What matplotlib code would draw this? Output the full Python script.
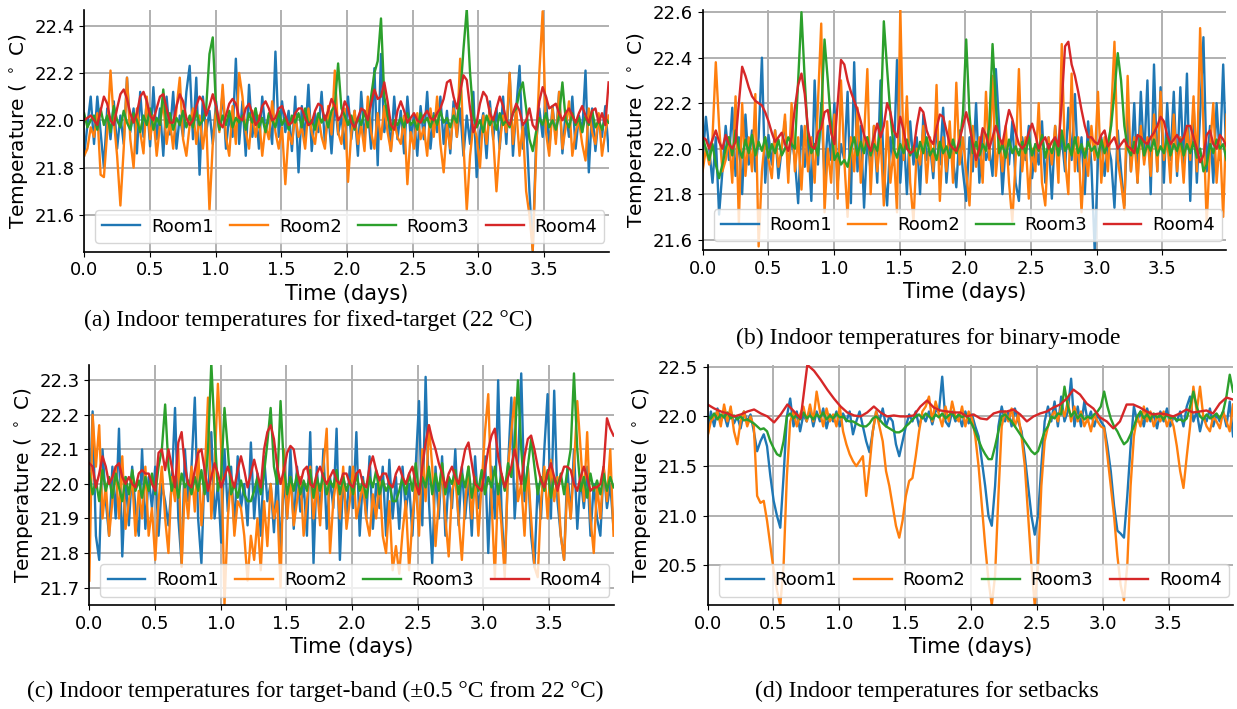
import numpy as np
import matplotlib
matplotlib.use('Agg')
from matplotlib import pyplot as plt

# ---- (a) fixed-target ----
a_room1 = [21.85, 21.98, 22.1, 21.9, 22.1, 21.95, 21.8, 22.05, 21.92, 22.08, 21.88, 22.02, 21.9, 22.18, 21.95, 22.05,
           21.86, 22.12, 21.93, 22.08, 21.89, 22.14, 21.92, 22.05, 21.85, 22.1, 21.94, 22.12, 21.88, 22.02, 21.93, 22.12,
           22.23, 21.92, 22.18, 21.77, 22.1, 21.95, 22.04, 21.9, 22.08, 21.96, 22.12, 21.88, 22.02, 21.93, 22.26, 21.9,
           22.08, 21.85, 22.15, 21.93, 22.05, 21.88, 22.1, 21.95, 22.02, 21.9, 22.29, 21.93, 22.08, 21.95, 22.04, 21.87,
           22.1, 21.78, 22.06, 21.92, 22.15, 21.87, 22.03, 21.95, 22.12, 21.9, 22.04, 21.86, 22.08, 21.94, 22.02, 21.88,
           22.1, 21.92, 22.04, 21.85, 22.12, 21.93, 22.05, 21.88, 22.22, 21.81, 22.28, 21.95, 22.06, 21.87, 22.1, 21.92,
           22.04, 21.86, 22.1, 21.93, 22.02, 21.85, 22.06, 21.92, 22.12, 21.88, 22.03, 21.95, 22.1, 21.9, 22.04, 21.86,
           22.08, 21.93, 22.05, 21.85, 22.02, 21.9, 22.12, 21.76, 21.95, 22.03, 21.84, 22.08, 21.92, 22.05, 21.88, 22.1,
           21.9, 22.2, 21.85, 22.05, 22.23, 21.88, 22.0, 21.7, 21.45, 21.9, 22.05, 21.93, 22.1, 21.88, 22.06, 21.92,
           22.12, 21.86, 22.04, 21.93, 22.1, 21.88, 22.02, 21.95, 22.21, 21.78, 22.05, 21.87, 22.02, 21.93, 22.06, 21.87]
a_room2 = [21.85, 21.88, 21.97, 21.93, 22.03, 21.77, 21.76, 21.95, 22.21, 22.0, 21.85, 21.64, 21.88, 22.18, 21.92, 21.8,
           22.05, 21.95, 21.86, 22.1, 21.92, 22.02, 21.85, 21.98, 22.08, 21.9, 22.0, 21.88, 22.05, 22.18, 21.92, 21.85,
           21.98, 22.05, 21.9, 22.02, 21.88, 22.0, 21.62, 21.9, 22.05, 21.95, 22.15, 21.93, 21.85, 22.06, 21.9, 22.2,
           22.1, 21.95, 21.88, 22.04, 21.93, 22.02, 21.85, 21.98, 21.92, 22.08, 21.95, 21.88, 21.97, 21.73, 21.95, 21.9,
           22.02, 21.93, 21.97, 21.88, 22.05, 21.95, 21.9, 22.02, 21.93, 21.88, 22.06, 21.94, 22.21, 21.95, 21.9, 22.05,
           21.74, 21.95, 22.04, 21.9, 21.98, 21.87, 22.1, 21.95, 21.88, 22.03, 21.92, 22.06, 21.95, 21.87, 22.0, 21.93,
           21.9, 22.02, 21.73, 21.95, 21.88, 22.03, 21.92, 21.97, 21.85, 22.05, 21.93, 22.1, 21.9, 21.78, 21.98, 21.88,
           22.05, 21.93, 22.26, 21.9, 21.62, 21.85, 21.98, 21.93, 21.8, 22.02, 21.9, 22.05, 21.93, 21.7, 21.9, 22.02,
           21.95, 22.2, 21.9, 22.05, 21.85, 21.98, 21.7, 21.6, 21.45, 21.85, 22.2, 22.46, 21.95, 21.85, 22.05, 21.9,
           22.12, 21.88, 21.97, 22.08, 21.85, 21.95, 22.0, 21.9, 21.83, 22.05, 21.95, 21.9, 22.03, 21.85, 21.95, 22.02]
a_room3 = [22.03, 21.97, 22.0, 22.02, 21.96, 22.05, 21.98, 22.02, 21.95, 22.06, 22.0, 21.97, 22.04, 21.99, 21.96, 22.03,
           22.0, 21.95, 22.02, 21.98, 22.05, 21.96, 22.01, 21.98, 22.13, 21.97, 22.03, 21.96, 22.01, 21.98, 22.04, 21.97,
           22.02, 21.97, 22.04, 21.98, 22.0, 22.05, 22.28, 22.35, 22.05, 21.96, 22.02, 21.98, 22.04, 21.97, 22.01, 21.99,
           22.02, 21.96, 22.03, 21.99, 22.05, 21.97, 22.01, 21.95, 22.03, 22.0, 21.97, 22.04, 21.98, 22.01, 21.96, 22.02,
           21.99, 22.03, 21.97, 22.05, 21.98, 22.0, 21.96, 22.03, 21.99, 22.02, 21.97, 22.04, 22.06, 22.24, 22.05, 22.02,
           21.98, 22.02, 21.96, 22.01, 21.98, 22.04, 21.97, 22.1, 22.2, 22.25, 22.43, 22.1, 22.02, 21.96, 22.0, 21.98,
           22.01, 21.97, 22.03, 21.98, 22.0, 21.96, 22.03, 21.99, 22.01, 21.97, 22.02, 21.98, 22.04, 21.99, 22.01, 21.97,
           22.02, 21.99, 22.1, 22.3, 22.47, 22.2, 22.02, 21.97, 22.0, 21.95, 22.02, 21.98, 22.01, 21.96, 22.03, 21.98,
           22.0, 21.97, 22.03, 22.05, 22.12, 22.16, 22.05, 21.92, 21.87, 21.95, 22.01, 21.98, 22.03, 21.97, 22.0, 21.96,
           22.02, 22.16, 22.0, 21.97, 22.03, 21.98, 22.01, 21.95, 22.02, 21.98, 22.04, 21.97, 22.0, 21.96, 22.01, 21.99]
a_room4 = [22.0, 22.01, 22.02, 22.0, 21.98, 22.04, 22.1, 22.07, 22.0, 21.98, 22.05, 22.11, 22.13, 22.09, 22.03, 21.99,
           22.03, 22.1, 22.12, 22.08, 22.02, 22.0, 22.05, 22.1, 22.11, 22.05, 21.99, 21.99, 22.06, 22.11, 22.08, 22.01,
           21.98, 22.0, 22.06, 22.1, 22.08, 22.02, 22.06, 22.11, 22.06, 21.99, 21.97, 22.02, 22.07, 22.09, 22.07, 22.01,
           22.0, 22.05, 22.07, 22.03, 21.98, 22.0, 22.06, 22.08, 22.05, 22.0, 22.01, 22.05, 22.06, 22.02, 21.98, 21.99,
           22.03, 22.05, 22.05, 22.01, 21.98, 21.99, 22.04, 22.07, 22.06, 22.0, 22.04, 22.09, 22.06, 22.0, 22.02, 22.08,
           22.05, 21.99, 21.97, 22.01, 22.05, 22.04, 22.0, 22.07, 22.13, 22.09, 22.1, 22.16, 22.08, 21.98, 21.96, 22.04,
           22.08, 22.04, 21.99, 22.01, 22.03, 22.0, 21.99, 22.02, 22.04, 22.01, 22.0, 22.03, 22.05, 22.09, 22.16, 22.17,
           22.1, 22.05, 22.12, 22.19, 22.17, 22.05, 21.95, 21.99, 22.07, 22.12, 22.1, 22.03, 22.0, 22.05, 22.1, 22.06,
           22.0, 21.98, 22.03, 22.07, 22.04, 21.98, 22.0, 22.05, 21.98, 21.96, 22.08, 22.14, 22.1, 22.05, 22.06, 22.07,
           22.03, 22.0, 22.03, 22.05, 22.02, 21.99, 22.03, 22.06, 22.02, 21.99, 22.04, 22.05, 21.99, 22.03, 21.98, 22.16]

# ---- (b) binary-mode ----
b_room1 = [21.95, 22.14, 22.0, 21.85, 22.05, 21.71, 21.9, 22.1, 21.95, 22.18, 21.88, 22.05, 21.8, 22.15, 21.93, 22.08,
           21.9, 22.05, 22.4, 21.85, 22.06, 21.93, 22.08, 21.87, 22.0, 22.12, 21.9, 22.05, 21.95, 21.76, 22.1, 21.92,
           22.05, 21.77, 22.3, 21.93, 22.2, 21.87, 22.1, 21.95, 22.2, 21.85, 22.02, 21.95, 22.25, 21.76, 22.38, 21.9,
           22.1, 21.74, 22.05, 21.9, 22.1, 21.85, 22.3, 21.9, 21.75, 22.05, 21.93, 22.39, 21.85, 22.08, 21.8, 22.12,
           21.93, 22.05, 21.8, 22.15, 21.95, 22.02, 21.87, 22.1, 21.93, 22.18, 21.85, 22.05, 21.95, 21.83, 22.08, 21.9,
           21.77, 22.05, 21.9, 22.2, 21.85, 22.08, 21.95, 22.0, 21.88, 22.35, 22.1, 21.8, 22.02, 21.93, 22.12, 21.85,
           21.77, 22.05, 21.95, 22.1, 21.87, 22.02, 21.93, 22.12, 21.85, 22.05, 21.78, 22.1, 21.95, 22.05, 21.9, 22.18,
           21.95, 22.24, 21.9, 22.05, 21.8, 22.12, 21.93, 21.55, 21.95, 22.05, 21.88, 22.02, 21.95, 21.74, 22.08, 21.9,
           21.75, 22.15, 21.9, 22.2, 21.85, 22.25, 21.95, 22.3, 21.8, 22.37, 21.9, 22.27, 21.85, 22.2, 21.95, 22.25,
           21.88, 22.27, 21.92, 22.33, 21.77, 22.2, 21.85, 22.15, 22.49, 21.9, 22.1, 21.85, 22.2, 21.95, 22.37, 21.93]
b_room2 = [21.9, 22.0, 21.93, 22.05, 22.38, 22.1, 21.9, 21.95, 22.05, 21.85, 22.23, 21.67, 22.2, 21.88, 22.05, 21.9,
           22.24, 21.57, 21.9, 22.05, 21.95, 21.87, 22.08, 21.92, 22.0, 22.15, 21.85, 22.2, 21.9, 22.05, 21.82, 22.1,
           21.9, 22.05, 21.85, 22.2, 22.55, 21.72, 22.0, 21.85, 22.15, 21.78, 22.3, 21.95, 21.7, 22.05, 21.9, 22.18,
           21.85, 22.05, 22.35, 21.8, 22.1, 21.9, 22.05, 21.75, 22.12, 21.85, 22.0, 21.72, 22.62, 21.95, 22.23, 21.85,
           21.68, 22.0, 21.93, 22.1, 21.85, 22.05, 21.9, 22.28, 21.77, 22.05, 21.9, 22.12, 21.85, 22.29, 21.93, 22.05,
           21.9, 21.75, 22.1, 21.92, 22.05, 21.85, 22.25, 21.95, 22.32, 21.88, 22.05, 21.9, 22.1, 21.85, 21.68, 21.95,
           22.35, 21.9, 22.05, 21.78, 22.0, 21.9, 22.2, 21.85, 21.75, 22.05, 21.93, 22.1, 21.85, 22.46, 21.95, 21.8,
           22.33, 21.9, 22.05, 21.72, 22.0, 21.88, 22.1, 21.95, 22.25, 21.85, 22.05, 21.9, 22.15, 22.47, 21.95, 21.85,
           21.73, 22.32, 21.9, 22.05, 21.85, 22.1, 21.93, 22.05, 21.88, 22.15, 21.9, 22.25, 21.95, 22.05, 21.85, 22.15,
           21.9, 22.05, 21.85, 22.1, 21.95, 22.23, 21.9, 22.53, 22.1, 21.67, 22.0, 22.2, 21.85, 22.05, 21.7, 22.15]
b_room3 = [22.05, 22.0, 21.95, 22.02, 21.93, 21.87, 21.93, 22.0, 22.05, 21.97, 22.08, 22.0, 21.96, 22.04, 21.98, 22.06,
           21.97, 22.03, 21.99, 22.05, 21.96, 22.02, 21.98, 22.04, 21.97, 22.0, 22.05, 22.02, 22.0, 22.3, 22.6, 22.3,
           22.05, 21.98, 22.02, 21.97, 22.15, 22.48, 22.3, 22.1, 21.95, 21.98, 21.93, 21.95, 21.92, 22.0, 22.05, 21.97,
           22.03, 21.98, 22.05, 21.97, 22.02, 21.99, 22.1, 22.56, 22.35, 22.15, 22.0, 21.96, 22.02, 21.98, 22.04, 21.97,
           22.01, 21.96, 22.03, 21.98, 22.05, 21.97, 22.0, 21.95, 22.03, 21.98, 22.01, 21.96, 22.04, 21.98, 22.02, 22.15,
           22.48, 22.15, 21.98, 22.03, 21.97, 22.02, 21.99, 22.1, 22.46, 22.2, 21.98, 22.02, 21.96, 22.04, 21.98, 22.01,
           21.97, 22.03, 21.98, 22.05, 21.97, 22.02, 21.99, 22.06, 21.96, 22.02, 21.98, 22.04, 21.97, 22.08, 21.99, 22.02,
           21.97, 22.05, 21.98, 22.02, 21.96, 22.03, 21.99, 22.01, 21.96, 22.04, 21.98, 22.02, 22.1, 22.25, 22.42, 22.3,
           22.1, 22.0, 21.97, 22.03, 21.98, 22.05, 21.97, 22.02, 21.99, 22.04, 21.97, 22.01, 21.98, 22.05, 21.97, 22.02,
           21.99, 22.04, 21.97, 22.02, 21.98, 22.03, 21.96, 22.0, 21.9, 21.93, 22.02, 21.98, 22.04, 22.0, 22.02, 21.95]
b_room4 = [22.05, 22.04, 22.0, 22.04, 22.08, 22.03, 22.0, 22.06, 22.02, 22.0, 22.03, 22.2, 22.36, 22.32, 22.27, 22.23,
           22.21, 22.2, 22.19, 22.16, 22.12, 22.07, 22.03, 22.05, 22.07, 22.02, 21.99, 22.05, 22.18, 22.28, 22.33, 22.24,
           22.08, 22.01, 22.0, 22.07, 22.09, 22.16, 22.17, 22.07, 22.02, 22.2, 22.39, 22.37, 22.3, 22.25, 22.21, 22.17,
           22.12, 22.06, 22.02, 21.99, 22.05, 22.11, 22.05, 22.1, 22.2, 22.16, 22.08, 22.05, 22.14, 22.08, 22.0, 21.98,
           21.99, 22.1, 22.18, 22.16, 22.08, 22.04, 22.02, 22.09, 22.15, 22.14, 22.08, 22.02, 22.0, 21.99, 22.04, 22.1,
           22.16, 22.1, 22.02, 21.95, 22.0, 22.09, 22.06, 22.0, 22.05, 22.1, 22.05, 22.02, 22.1, 22.17, 22.13, 22.07,
           22.02, 22.0, 22.02, 22.07, 22.11, 22.06, 22.0, 22.03, 22.05, 22.0, 22.03, 22.05, 22.01, 22.2, 22.45, 22.47,
           22.37, 22.32, 22.25, 22.17, 22.1, 22.05, 22.05, 22.03, 22.02, 22.06, 22.08, 22.01, 22.03, 22.05, 22.0, 22.02,
           22.04, 22.01, 22.0, 21.98, 22.06, 22.05, 22.03, 22.02, 22.05, 22.07, 22.1, 22.14, 22.12, 22.06, 22.02, 22.04,
           22.06, 22.03, 22.05, 22.1, 22.1, 22.05, 22.0, 21.94, 21.97, 22.06, 22.08, 22.02, 22.0, 22.06, 22.04, 22.01]

# ---- (c) target-band ----
c_room1 = [21.92, 22.21, 21.85, 21.78, 22.1, 21.95, 21.85, 22.05, 21.9, 22.16, 21.79, 22.02, 21.88, 22.05, 21.93, 21.85,
           22.1, 21.87, 22.02, 21.93, 22.05, 21.85, 22.0, 21.95, 21.88, 22.0, 22.22, 21.9, 21.77, 22.1, 21.95, 22.05,
           22.25, 21.9, 21.77, 22.05, 21.95, 22.15, 21.9, 22.0, 21.83, 22.1, 21.92, 22.05, 21.87, 22.08, 21.93, 22.0,
           21.88, 22.12, 21.9, 22.03, 21.85, 22.08, 21.95, 22.0, 21.86, 22.05, 21.8, 22.02, 21.9, 22.1, 21.87, 22.05,
           21.92, 22.0, 21.85, 22.15, 21.77, 22.05, 21.9, 22.1, 21.87, 22.02, 21.93, 22.16, 21.78, 22.02, 21.9, 22.05,
           21.93, 22.15, 21.85, 22.02, 21.9, 22.08, 21.87, 22.0, 21.93, 22.05, 21.85, 22.07, 21.9, 22.02, 21.87, 22.05,
           21.92, 22.0, 21.85, 22.05, 22.24, 21.88, 22.31, 21.95, 21.77, 22.05, 21.9, 22.08, 21.85, 22.02, 21.93, 22.1,
           21.88, 22.05, 21.9, 22.02, 21.85, 22.08, 21.93, 22.0, 22.08, 21.8, 22.05, 21.9, 22.3, 21.93, 21.75, 22.05,
           22.25, 21.9, 22.05, 22.32, 21.95, 22.05, 21.85, 21.76, 22.0, 21.9, 22.1, 22.26, 21.9, 22.27, 21.95, 21.85,
           21.78, 22.05, 21.9, 22.1, 21.87, 22.02, 21.93, 22.05, 21.85, 22.0, 21.9, 21.85, 22.05, 21.93, 22.0, 21.87]
c_room2 = [21.72, 22.2, 22.05, 22.17, 21.9, 22.0, 21.85, 21.95, 22.05, 21.9, 22.08, 21.87, 21.95, 22.02, 21.85, 21.98,
           21.9, 22.05, 21.85, 21.93, 21.78, 21.95, 22.05, 21.9, 21.8, 22.02, 21.95, 22.1, 21.76, 22.0, 21.9, 22.05,
           21.92, 22.1, 21.88, 22.02, 22.25, 21.9, 22.05, 22.29, 22.1, 21.65, 21.9, 22.02, 21.85, 21.95, 21.93, 21.85,
           21.72, 21.85, 21.78, 21.9, 21.75, 21.95, 21.82, 22.0, 21.9, 21.95, 21.7, 22.1, 21.9, 22.02, 21.88, 21.95,
           22.02, 21.85, 21.95, 22.05, 21.9, 22.0, 21.88, 22.05, 22.16, 21.8, 21.95, 22.02, 21.9, 22.05, 21.87, 21.95,
           22.05, 21.9, 21.95, 22.0, 21.9, 21.85, 21.97, 21.9, 22.02, 21.85, 21.8, 21.95, 21.75, 21.82, 21.74, 21.86,
           21.95, 21.75, 21.9, 22.0, 21.85, 22.1, 21.95, 22.17, 22.05, 21.82, 21.95, 22.05, 21.9, 21.79, 21.98, 22.02,
           21.9, 21.78, 21.95, 22.05, 21.9, 22.02, 21.85, 22.0, 22.15, 22.26, 21.95, 21.73, 22.0, 21.88, 21.73, 22.05,
           22.15, 22.25, 21.95, 22.0, 21.85, 22.05, 21.9, 21.76, 21.73, 21.95, 22.05, 21.9, 22.07, 21.95, 22.02, 21.85,
           21.78, 22.0, 21.9, 22.05, 22.24, 22.1, 21.95, 22.15, 21.9, 21.8, 22.0, 21.9, 22.05, 21.95, 22.1, 21.85]
c_room3 = [22.03, 21.97, 22.01, 21.95, 22.04, 21.98, 22.02, 21.96, 22.03, 21.99, 21.95, 22.02, 21.97, 22.04, 21.98, 22.01,
           21.96, 22.02, 21.98, 22.03, 21.97, 22.05, 22.1, 22.23, 22.05, 21.98, 22.02, 21.96, 22.03, 21.99, 22.01, 21.97,
           22.02, 21.98, 22.04, 21.97, 22.1, 22.35, 22.15, 21.98, 22.02, 22.22, 22.1, 21.97, 22.0, 21.96, 22.01, 21.97,
           21.95, 21.95, 21.98, 22.02, 21.97, 22.03, 22.12, 22.22, 22.05, 22.0, 22.24, 22.05, 21.97, 22.02, 21.98, 22.03,
           21.97, 22.01, 21.98, 22.04, 21.96, 22.02, 21.98, 22.03, 21.97, 22.01, 21.99, 22.04, 21.97, 22.02, 21.98, 22.01,
           21.97, 22.03, 21.98, 22.01, 21.96, 22.02, 21.99, 22.04, 21.97, 22.01, 21.98, 22.0, 21.95, 21.95, 21.98, 22.02,
           21.97, 22.03, 21.98, 22.06, 21.97, 22.02, 21.99, 22.05, 21.97, 22.03, 21.98, 22.06, 21.97, 22.02, 22.0, 22.04,
           21.97, 22.03, 21.99, 22.05, 21.96, 22.02, 21.98, 22.04, 21.97, 22.02, 21.99, 22.05, 21.97, 22.03, 21.98, 22.06,
           22.02, 22.12, 22.3, 22.1, 21.98, 22.05, 22.13, 22.05, 21.97, 22.02, 21.98, 22.04, 21.96, 22.02, 21.99, 22.03,
           21.97, 22.04, 22.1, 22.32, 22.1, 21.98, 22.02, 21.96, 22.03, 21.98, 22.01, 21.97, 22.03, 21.98, 22.02, 21.99]
c_room4 = [22.06, 22.05, 21.99, 22.03, 22.08, 22.05, 22.0, 22.02, 22.05, 22.06, 22.02, 22.0, 22.02, 22.0, 21.99, 22.03,
           22.04, 22.03, 22.03, 22.0, 21.98, 22.09, 22.1, 22.04, 22.1, 22.05, 21.99, 22.12, 22.15, 22.05, 22.0, 21.99,
           22.04, 22.09, 22.1, 22.04, 21.98, 22.02, 22.06, 22.03, 21.99, 22.02, 22.05, 22.02, 21.99, 22.04, 22.08, 22.04,
           21.99, 22.03, 22.07, 22.03, 21.99, 22.1, 22.15, 22.17, 22.13, 22.05, 22.0, 22.04, 22.09, 22.11, 22.1, 22.04,
           22.0, 22.04, 22.05, 22.0, 21.99, 22.03, 22.05, 22.02, 22.0, 22.02, 22.04, 22.01, 22.0, 22.03, 22.03, 22.0,
           21.99, 22.03, 22.04, 22.0, 21.99, 22.05, 22.08, 22.04, 22.01, 22.03, 22.03, 22.0, 21.99, 22.03, 22.05, 22.02,
           22.0, 22.03, 22.05, 22.0, 21.97, 22.05, 22.12, 22.17, 22.13, 22.1, 22.06, 22.03, 21.99, 22.03, 22.05, 22.02,
           22.0, 22.05, 22.1, 22.12, 22.06, 22.0, 21.99, 21.98, 22.04, 22.1, 22.14, 22.16, 22.08, 22.03, 21.99, 22.02,
           22.05, 22.1, 22.05, 22.0, 22.08, 22.13, 22.14, 22.1, 22.05, 22.01, 21.99, 22.03, 22.06, 22.02, 21.98, 22.02,
           22.05, 22.05, 22.04, 22.0, 21.98, 22.02, 22.05, 22.02, 21.98, 21.99, 21.99, 22.0, 22.05, 22.19, 22.16, 22.14]

# ---- (d) setbacks ----
d_room1 = [21.8, 22.05, 21.9, 22.08, 21.95, 22.02, 21.9, 22.06, 21.93, 22.0, 21.88, 22.05, 21.95, 22.02, 21.85, 21.65,
           21.75, 21.82, 21.7, 21.4, 21.15, 21.0, 20.88, 21.4, 22.0, 22.18, 21.9, 22.05, 21.85, 22.02, 21.95, 22.08,
           21.9, 22.05, 21.95, 22.08, 21.88, 22.02, 21.95, 22.05, 21.9, 22.03, 21.95, 22.05, 21.82, 21.95, 22.05, 21.9,
           21.75, 21.64, 21.85, 22.05, 21.95, 22.08, 21.9, 22.0, 21.95, 21.72, 21.6, 21.75, 21.9, 22.02, 21.95, 22.05,
           21.9, 22.02, 21.95, 22.05, 21.92, 22.06, 22.05, 22.4, 21.95, 21.9, 22.05, 21.95, 22.02, 21.9, 22.05, 21.93,
           22.02, 21.9, 21.8, 21.55, 21.3, 21.0, 20.9, 21.3, 21.9, 22.1, 21.95, 22.05, 21.9, 22.08, 21.95, 21.85,
           21.6, 21.3, 21.0, 20.81, 21.0, 21.5, 21.95, 22.1, 21.95, 22.15, 21.9, 22.2, 21.95, 22.05, 22.38, 21.9,
           22.1, 21.9, 22.15, 21.95, 22.05, 21.9, 22.02, 21.95, 21.9, 21.7, 21.45, 21.1, 20.85, 20.82, 20.78, 21.2,
           21.7, 22.1, 21.95, 22.05, 21.9, 22.08, 21.95, 22.02, 21.88, 22.05, 21.95, 22.08, 21.9, 22.0, 21.95, 22.05,
           21.9, 22.1, 22.2, 21.95, 22.05, 21.85, 22.0, 21.95, 22.08, 21.9, 22.02, 21.95, 22.05, 21.9, 22.15, 21.8]
d_room2 = [21.8, 21.95, 22.0, 22.05, 21.9, 22.12, 21.95, 22.1, 21.85, 21.72, 21.95, 22.05, 21.9, 22.0, 21.9, 21.2,
           21.13, 21.15, 20.95, 20.7, 20.45, 20.25, 20.1, 20.5, 21.4, 21.95, 22.05, 21.9, 22.02, 22.1, 21.95, 22.12,
           21.95, 22.25, 22.05, 21.9, 22.08, 21.95, 22.02, 21.9, 22.1, 21.85, 21.72, 21.62, 21.55, 21.5, 21.55, 21.6,
           21.2, 21.5, 21.85, 22.05, 21.9, 21.75, 21.45, 21.3, 21.1, 20.9, 20.78, 20.95, 21.2, 21.35, 21.38, 21.6,
           21.85, 22.05, 22.1, 22.2, 21.95, 22.15, 22.02, 21.9, 22.1, 21.95, 22.15, 22.0, 21.95, 22.1, 21.9, 22.05,
           21.98, 21.8, 21.5, 21.1, 20.7, 20.35, 20.1, 20.4, 21.2, 21.9, 22.05, 21.95, 22.08, 21.9, 22.02, 21.8,
           21.5, 21.0, 20.5, 20.1, 20.5, 21.3, 21.75, 21.9, 22.0, 22.05, 21.95, 22.1, 22.0, 22.15, 21.95, 22.1,
           21.95, 22.05, 21.9, 21.98, 21.85, 22.02, 21.95, 21.9, 21.88, 21.6, 21.3, 21.0, 20.6, 20.3, 20.15, 20.5,
           21.3, 21.8, 22.0, 21.9, 22.1, 21.95, 22.05, 21.9, 22.0, 21.95, 22.05, 21.9, 22.0, 21.9, 21.7, 21.45,
           21.28, 21.6, 21.9, 22.3, 22.05, 22.3, 22.0, 21.9, 21.85, 22.0, 21.95, 21.88, 22.05, 21.95, 21.85, 22.12]
d_room3 = [22.0, 21.98, 22.03, 21.97, 22.02, 21.99, 22.04, 21.98, 22.01, 21.97, 22.0, 21.96, 21.97, 21.95, 21.93, 21.9,
           21.87, 21.88, 21.85, 21.75, 21.68, 21.62, 21.6, 21.75, 22.0, 22.03, 21.98, 22.02, 21.97, 22.04, 21.98, 22.01,
           21.97, 22.02, 21.99, 22.04, 21.97, 22.01, 21.98, 22.03, 21.99, 22.0, 21.96, 21.95, 21.95, 21.93, 21.91, 21.9,
           21.9, 21.93, 21.98, 22.0, 21.97, 21.93, 21.9, 21.88, 21.86, 21.84, 21.84, 21.86, 21.9, 21.93, 21.97, 22.0,
           22.02, 21.98, 22.03, 22.0, 21.97, 22.02, 21.99, 22.03, 21.98, 22.01, 22.04, 21.98, 22.02, 21.99, 22.02, 21.98,
           21.92, 21.85, 21.76, 21.68, 21.62, 21.57, 21.57, 21.7, 21.85, 22.0, 22.02, 21.98, 21.95, 21.9, 21.85, 21.8,
           21.75, 21.7, 21.65, 21.62, 21.65, 21.75, 21.85, 21.9, 22.0, 21.98, 22.03, 22.02, 22.3, 22.1, 22.0, 22.05,
           21.98, 22.02, 21.97, 22.0, 21.98, 22.02, 22.05, 22.1, 22.25, 22.1, 21.98, 21.9, 21.85, 21.78, 21.72, 21.75,
           21.82, 21.9, 22.0, 22.05, 21.98, 22.02, 21.97, 22.03, 21.99, 22.01, 21.97, 22.02, 21.98, 22.0, 21.96, 21.97,
           21.95, 21.98, 22.1, 22.25, 22.1, 22.0, 21.97, 22.02, 21.98, 22.0, 22.03, 21.98, 22.05, 22.2, 22.42, 22.25]
d_room4 = [22.12, 22.08, 22.05, 22.03, 22.0, 22.02, 22.05, 22.07, 22.03, 22.0, 21.94, 22.02, 22.12, 22.05, 21.98, 22.52,
           22.46, 22.37, 22.27, 22.18, 22.1, 22.04, 22.01, 22.0, 22.04, 22.1, 22.04, 22.0, 22.01, 22.0, 22.0, 22.01,
           22.1, 22.16, 22.09, 22.06, 22.05, 22.04, 22.04, 22.0, 22.02, 21.98, 21.97, 22.03, 22.05, 22.05, 22.07, 22.02,
           21.95, 22.0, 22.03, 22.05, 22.09, 22.12, 22.18, 22.27, 22.22, 22.13, 22.08, 21.99, 21.95, 21.88, 21.95, 22.12,
           22.12, 22.09, 22.05, 22.02, 22.03, 22.02, 22.0, 22.03, 22.07, 22.04, 22.05, 22.06, 22.03, 22.13, 22.19, 22.17]

room_names = ['Room1', 'Room2', 'Room3', 'Room4']
t_end = 3.99

panels = [
    ([a_room1, a_room2, a_room3, a_room4], (21.445, 22.466), [21.6, 21.8, 22.0, 22.2, 22.4],
     [0.068, 0.645, 0.424, 0.341], '(a) Indoor temperatures for fixed-target (22 \u00b0C)', (0.249, 0.548)),
    ([b_room1, b_room2, b_room3, b_room4], (21.553, 22.61), [21.6, 21.8, 22.0, 22.2, 22.4, 22.6],
     [0.568, 0.647, 0.4235, 0.339], '(b) Indoor temperatures for binary-mode', (0.750, 0.523)),
    ([c_room1, c_room2, c_room3, c_room4], (21.648, 22.345), [21.7, 21.8, 21.9, 22.0, 22.1, 22.2, 22.3],
     [0.0722, 0.146, 0.4238, 0.3395], '(c) Indoor temperatures for target-band (\u00b10.5 \u00b0C from 22 \u00b0C)', (0.255, 0.025)),
    ([d_room1, d_room2, d_room3, d_room4], (20.097, 22.52), [20.5, 21.0, 21.5, 22.0, 22.5],
     [0.572, 0.146, 0.4248, 0.3395], '(d) Indoor temperatures for setbacks', (0.749, 0.025)),
]

fig = plt.figure(figsize=(12.37, 7.09), dpi=100)

for series, ylim, yticks, rect, caption, cap_pos in panels:
    ax = fig.add_axes(rect)
    for name, y in zip(room_names, series):
        t = np.linspace(0, t_end, len(y))
        ax.plot(t, y, lw=1.7, label=name)
    ax.set_xlim(0, t_end)
    ax.set_ylim(*ylim)
    ax.set_xticks([0.0, 0.5, 1.0, 1.5, 2.0, 2.5, 3.0, 3.5])
    ax.set_yticks(yticks)
    ax.grid(True, color='#b0b0b0', lw=1.4)
    ax.set_axisbelow(True)
    for s in ['top', 'right']:
        ax.spines[s].set_visible(False)
    for s in ['left', 'bottom']:
        ax.spines[s].set_linewidth(1.2)
    ax.tick_params(labelsize=13)
    ax.set_xlabel('Time (days)', fontsize=15, labelpad=3)
    ax.set_ylabel('Temperature ( $^\\circ$ C)', fontsize=14.5, labelpad=3)
    ax.legend(loc='lower left', bbox_to_anchor=(0.021, 0.037, 0.971, 0.13), mode='expand',
              ncol=4, fontsize=13, handlelength=2.1, handletextpad=0.6, borderaxespad=0)
    fig.text(cap_pos[0], cap_pos[1], caption, ha='center', va='center',
             family='Liberation Serif', fontsize=17)

fig.savefig('out.png', dpi=100)
